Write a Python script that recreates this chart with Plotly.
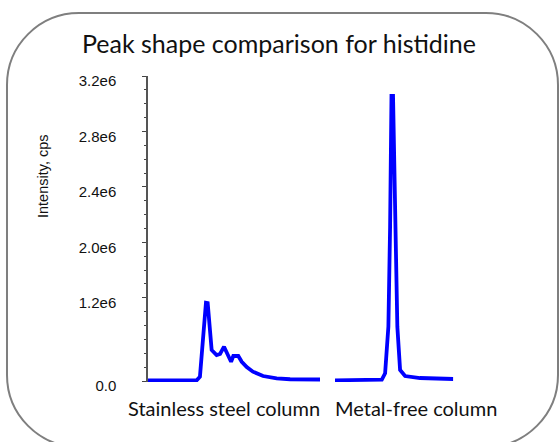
import numpy as np
import plotly.graph_objects as go

# ---- data (time in min, intensity in cps) ----
ss_time = [0.0, 2.83, 3.02, 3.21, 3.37, 3.47, 3.70, 3.99, 4.19, 4.42, 4.57, 4.83,
           4.96, 5.25, 5.45, 5.74, 6.10, 6.69, 7.48, 8.26, 10.0]
ss_int = [10000, 10000, 62000, 735000, 1130000, 1125000, 447000, 375000, 390000,
          495000, 423000, 278000, 361000, 361000, 278000, 202000, 134000, 72000,
          39000, 25000, 22000]

mf_time = [0.0, 2.72, 2.91, 3.10, 3.20, 3.28, 3.37, 3.49, 3.62, 3.78, 4.07, 4.94, 6.87]
mf_int = [10000, 20000, 111000, 783000, 2113000, 3056000, 3056000, 2113000,
          783000, 159000, 72000, 43000, 29000]

tick_values = [0, 1.2e6, 2.0e6, 2.4e6, 2.8e6, 3.2e6]
tick_labels = ["0.0", "1.2e6", "2.0e6", "2.4e6", "2.8e6", "3.2e6"]
column_labels = ["Stainless steel column", "Metal-free column"]
title_text = "Peak shape comparison for histidine"
y_title = "Intensity, cps"

# The reference axis is not linear: its labels sit on an evenly spaced minor
# tick grid (0 -> 1.2e6 over 6 steps, 1.2e6 -> 2.0e6 over 4, 2.0e6 -> 3.2e6 over 12).
break_vals = [0, 1.2e6, 2.0e6, 3.2e6]
break_steps = [0, 6, 10, 22]


def to_axis(v):
    return np.interp(np.asarray(v, dtype=float), break_vals, break_steps)


# ---- layout geometry (pixels) ----
W, H = 560, 442
L, R, T, B = 142, 100, 76, 60
PW, PH = W - L - R, H - T - B
ppu = 305.0 / 22.0  # pixels per minor step
ymin = 22 - PH / ppu


def X(p):
    return (p - L) / PW


def Y(p):
    return (H - B - p) / PH


fig = go.Figure()
fig.add_trace(go.Scatter(x=ss_time, y=to_axis(ss_int), mode="lines",
                         line=dict(color="#0000ff", width=3.8),
                         xaxis="x", yaxis="y", showlegend=False,
                         name=column_labels[0]))
fig.add_trace(go.Scatter(x=mf_time, y=to_axis(mf_int), mode="lines",
                         line=dict(color="#0000ff", width=3.8),
                         xaxis="x2", yaxis="y", showlegend=False,
                         name=column_labels[1]))

hidden_x = dict(showline=False, showticklabels=False, ticks="", showgrid=False,
                zeroline=False, fixedrange=True)

fig.update_layout(
    width=W, height=H,
    margin=dict(l=L, r=R, t=T, b=B, autoexpand=False),
    paper_bgcolor="white", plot_bgcolor="white",
    xaxis=dict(domain=[X(148), X(320)], range=[min(ss_time), max(ss_time)], **hidden_x),
    xaxis2=dict(domain=[X(335), X(453.3)], range=[min(mf_time), max(mf_time)],
                anchor="y", **hidden_x),
    yaxis=dict(
        range=[ymin, 22], showgrid=False, zeroline=False,
        showline=True, linecolor="#555555", linewidth=1.5,
        ticks="outside", ticklen=4, tickcolor="#444444", tickwidth=1,
        tickmode="array", tickvals=list(to_axis(tick_values)), ticktext=tick_labels,
        tickfont=dict(family="Liberation Sans, Arial", size=15, color="#111111"),
        ticklabelstandoff=23, ticklabelshift=5,
        minor=dict(ticks="outside", ticklen=2.5, tickcolor="#444444",
                   tick0=0, dtick=1, showgrid=False),
        automargin=False,
    ),
    title=dict(text=title_text, xref="paper", x=X(279), xanchor="center",
               yref="container", y=1 - 44 / H, yanchor="middle",
               font=dict(family="Lato", size=25, color="#111111")),
)

fig.add_annotation(text=column_labels[0], xref="paper", yref="paper",
                   x=X(224), y=Y(408), xanchor="center", yanchor="middle",
                   showarrow=False,
                   font=dict(family="Lato", size=20, color="#111111"))
fig.add_annotation(text=column_labels[1], xref="paper", yref="paper",
                   x=X(416), y=Y(408), xanchor="center", yanchor="middle",
                   showarrow=False,
                   font=dict(family="Lato", size=20, color="#111111"))
fig.add_annotation(text=y_title, xref="paper", yref="paper",
                   x=X(43), y=Y(176), xanchor="center", yanchor="middle",
                   textangle=-90, showarrow=False,
                   font=dict(family="Liberation Sans, Arial", size=14.5, color="#111111"))


def rounded_rect(x0, y0, x1, y1, r):
    k = 0.5523 * r
    pts = [
        ("M", [(x0 + r, y0)]),
        ("L", [(x1 - r, y0)]),
        ("C", [(x1 - r + k, y0), (x1, y0 + r - k), (x1, y0 + r)]),
        ("L", [(x1, y1 - r)]),
        ("C", [(x1, y1 - r + k), (x1 - r + k, y1), (x1 - r, y1)]),
        ("L", [(x0 + r, y1)]),
        ("C", [(x0 + r - k, y1), (x0, y1 - r + k), (x0, y1 - r)]),
        ("L", [(x0, y0 + r)]),
        ("C", [(x0, y0 + r - k), (x0 + r - k, y0), (x0 + r, y0)]),
    ]
    s = ""
    for cmd, ps in pts:
        s += cmd + " " + " ".join(f"{X(px):.5f},{Y(py):.5f}" for px, py in ps) + " "
    return s + "Z"


fig.add_shape(type="path", xref="paper", yref="paper",
              path=rounded_rect(7, 13, 558, 447, 72),
              line=dict(color="#7f7f7f", width=2), fillcolor="rgba(0,0,0,0)",
              layer="below")

fig.write_html("out.html", config={"displayModeBar": False},
               post_script="document.body.style.margin='0';document.body.style.padding='0';")
